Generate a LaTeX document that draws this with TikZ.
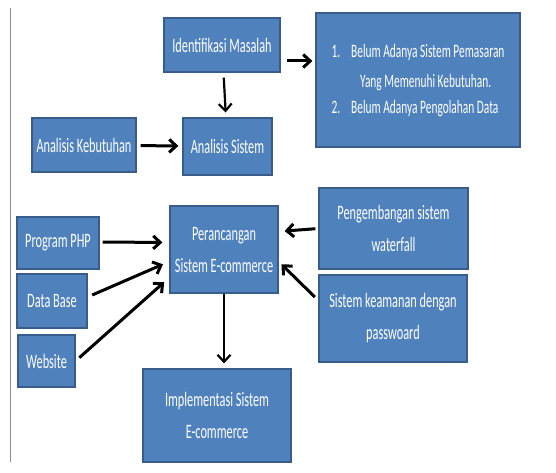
\documentclass[tikz,border=0pt]{standalone}
\usepackage{fontspec}
\setmainfont{Carlito}[FakeStretch=0.6]
\usetikzlibrary{arrows.meta}

\definecolor{boxfill}{HTML}{4F81BD}
\definecolor{boxline}{HTML}{385D8A}

\begin{document}
\begin{tikzpicture}[x=1pt,y=-1pt,
    bluenode/.style={rectangle, draw=boxline, fill=boxfill, line width=1.2pt, text=white, align=center, inner sep=2pt, font=\fontsize{20.5}{32}\selectfont},
    >={Straight Barb[length=7pt,width=13pt]},
    flow/.style={->, black, line width=3pt}]
    \useasboundingbox (0,0) rectangle (556,473);

    % page edge on the left
    \draw[line width=1pt, black!45] (10,8) -- (10,462);

    \node[bluenode, minimum width=116pt, minimum height=54pt](identifikasi) at (222,45){Identifikasi Masalah};
    \node[bluenode, minimum width=204pt, minimum height=134pt, font=\fontsize{19}{29}\selectfont](masalah) at (418,80){%
        \begin{tabular}{@{}l@{\hspace{11pt}}l@{}}
        1. & Belum Adanya Sistem Pemasaran\\[1pt]
           & \hspace{9pt}Yang Memenuhi Kebutuhan.\\[-3pt]
        2. & Belum Adanya Pengolahan Data
        \end{tabular}};
    \node[bluenode, minimum width=104pt, minimum height=54pt](kebutuhan) at (84,145){Analisis Kebutuhan};
    \node[bluenode, minimum width=89pt, minimum height=57pt](analisis) at (227.5,146.5){Analisis Sistem};
    \node[bluenode, minimum width=108pt, minimum height=87pt](perancangan) at (224,249.5){Perancangan\\Sistem E-commerce};
    \node[bluenode, minimum width=149pt, minimum height=81pt](waterfall) at (393.5,228.5){Pengembangan sistem\\waterfall};
    \node[bluenode, minimum width=148pt, minimum height=87pt](keamanan) at (393,318.5){Sistem keamanan dengan\\passwoard};
    \node[bluenode, minimum width=82pt, minimum height=52pt](php) at (58,243){Program PHP};
    \node[bluenode, minimum width=70pt, minimum height=54pt](database) at (52,301){Data Base};
    \node[bluenode, minimum width=57pt, minimum height=52pt](website) at (46.5,361){Website};
    \node[bluenode, minimum width=148pt, minimum height=93pt](implementasi) at (217,415.5){Implementasi Sistem\\E-commerce};

    \draw[flow, shorten <=6pt, shorten >=3pt]([yshift=-16pt]identifikasi.east) -- ([yshift=-16pt]identifikasi.east -| masalah.west);
    \draw[flow, line width=2.2pt, shorten <=5pt, shorten >=5pt](identifikasi) -- (analisis);
    \draw[flow, shorten <=4pt, shorten >=4pt](kebutuhan) -- (analisis);
    \draw[flow, shorten <=3pt, shorten >=7pt]([yshift=1pt]php.east) -- ([yshift=7pt]perancangan.west);
    \draw[flow, shorten <=5pt, shorten >=7pt]([yshift=4pt]database.east) -- ([yshift=-12pt]perancangan.west);
    \draw[flow, shorten <=5pt, shorten >=7pt](website.east) -- ([yshift=-28pt]perancangan.west);
    \draw[flow, shorten <=3pt, shorten >=6pt](waterfall.west) -- ([yshift=18pt]perancangan.east);
    \draw[flow, shorten <=5pt, shorten >=4pt]([yshift=18pt]keamanan.west) -- ([yshift=-12pt]perancangan.east);
    \draw[flow, line width=2.2pt, shorten >=5pt](perancangan) -- (perancangan |- implementasi.north);
\end{tikzpicture}
\end{document}
